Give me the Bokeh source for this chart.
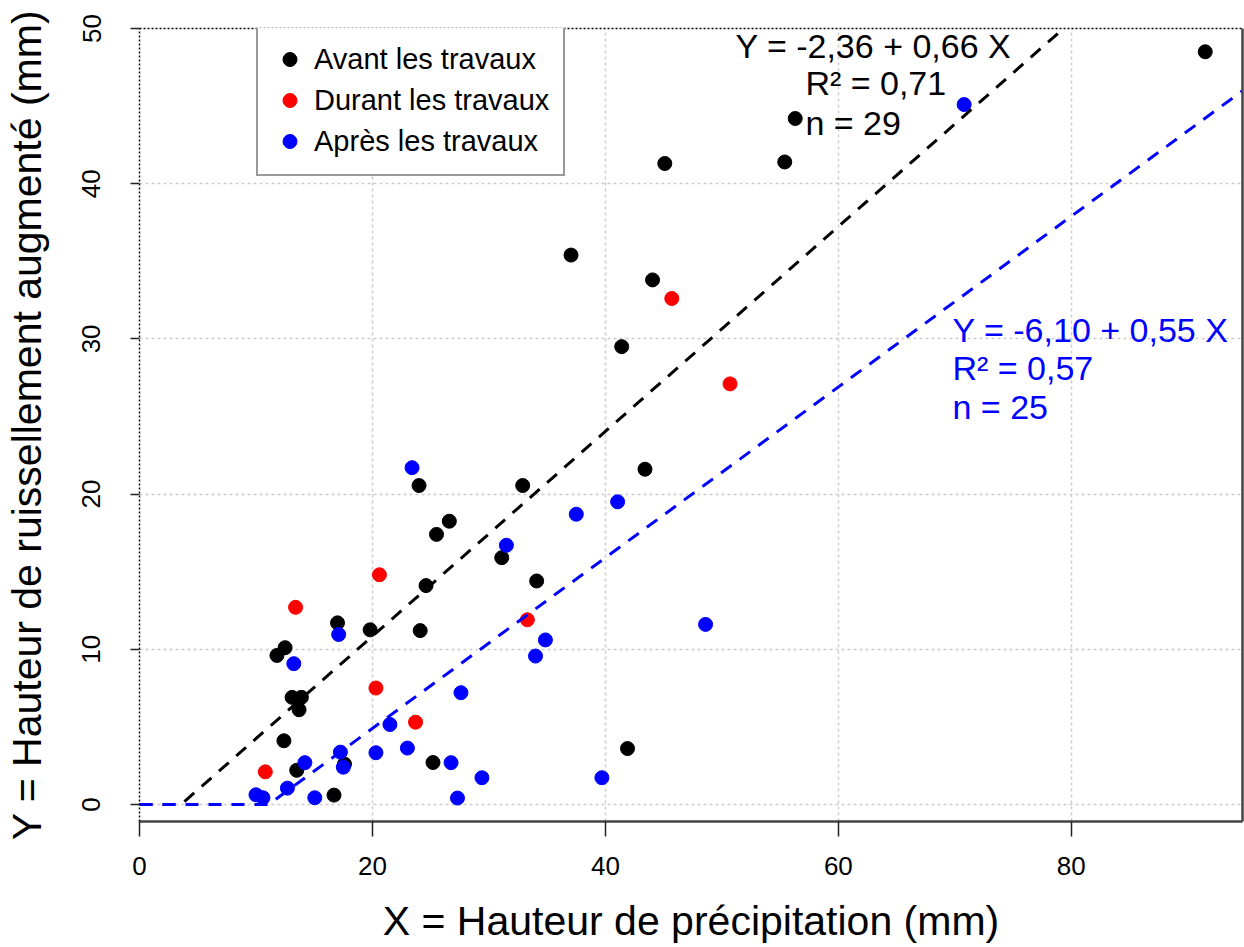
from bokeh.plotting import figure
from bokeh.models import Range1d, FixedTicker, LinearAxis, Legend, LegendItem, Label
from bokeh.embed import file_html
from bokeh.resources import INLINE

# ---- data ----
avant_x = [91.5, 56.3, 55.4, 45.1, 37.05, 44.05, 41.4, 43.4, 32.9, 24.0, 26.6, 25.5, 31.1, 34.1, 24.6,
           17.0, 19.8, 24.1, 12.5, 11.8, 13.1, 13.9, 13.7, 12.4, 13.5, 17.6, 16.7, 25.2, 41.9]
avant_y = [48.5, 44.2, 41.4, 41.3, 35.4, 33.8, 29.5, 21.6, 20.55, 20.55, 18.25, 17.4, 15.9, 14.4, 14.1,
           11.7, 11.25, 11.2, 10.1, 9.6, 6.9, 6.9, 6.1, 4.1, 2.2, 2.6, 0.6, 2.7, 3.6]

durant_x = [45.7, 50.7, 20.6, 13.4, 33.3, 20.3, 23.7, 10.8]
durant_y = [32.6, 27.1, 14.8, 12.7, 11.9, 7.5, 5.3, 2.1]

apres_x = [70.8, 23.4, 37.5, 41.05, 31.5, 17.1, 13.25, 34.85, 34.0, 48.6, 27.6, 21.5, 20.3, 23.0,
           17.25, 17.5, 14.2, 12.7, 10.0, 10.6, 15.05, 26.75, 29.4, 27.3, 39.7]
apres_y = [45.1, 21.7, 18.7, 19.5, 16.7, 10.95, 9.07, 10.6, 9.56, 11.6, 7.2, 5.15, 3.33, 3.63,
           3.37, 2.4, 2.69, 1.05, 0.62, 0.43, 0.43, 2.69, 1.72, 0.41, 1.72]

# regression coefficients (intercept, slope) as printed on the chart
avant_fit = (-2.36, 0.66)
apres_fit = (-6.10, 0.55)

series_labels = ["Avant les travaux", "Durant les travaux", "Après les travaux"]
x_ticks = [0, 20, 40, 60, 80]
y_ticks = [0, 10, 20, 30, 40, 50]

x_title = "X = Hauteur de précipitation (mm)"
y_title = "Y = Hauteur de ruissellement augmenté (mm)"
eq_avant = ["Y = -2,36 + 0,66 X", "R² = 0,71", "n = 29"]
eq_apres = ["Y = -6,10 + 0,55 X", "R² = 0,57", "n = 25"]

FONT = "Liberation Sans"
X_MAX = 94.7

p = figure(width=1244, height=947, output_backend="svg", toolbar_location=None,
           x_range=Range1d(0, X_MAX), y_range=Range1d(-1.1, 50.0),
           min_border_left=139, min_border_right=2, min_border_top=28, min_border_bottom=126,
           title_location=None, background_fill_color="white", border_fill_color="white")
p.outline_line_color = None

# grid
for g in (p.xgrid, p.ygrid):
    g.grid_line_color = "#cccccc"
    g.grid_line_dash = "3 3"
    g.grid_line_width = 1.5
p.xgrid.ticker = FixedTicker(ticks=x_ticks)
p.ygrid.ticker = FixedTicker(ticks=y_ticks)

# x axis (bottom)
xa = p.xaxis[0]
xa.ticker = FixedTicker(ticks=x_ticks)
xa.axis_line_color = "#444444"
xa.axis_line_width = 2.5
xa.major_tick_out = 15
xa.major_tick_in = 0
xa.major_tick_line_color = "#222222"
xa.major_tick_line_width = 1.5
xa.minor_tick_line_color = None
xa.major_label_text_font = FONT
xa.major_label_text_font_size = "26px"
xa.major_label_text_color = "black"
xa.major_label_standoff = 20
xa.axis_label = x_title
xa.axis_label_text_font = FONT
xa.axis_label_text_font_size = "41px"
xa.axis_label_text_font_style = "normal"
xa.axis_label_text_color = "black"
xa.axis_label_standoff = 20

# y axis (left)
ya = p.yaxis[0]
ya.ticker = FixedTicker(ticks=y_ticks)
ya.axis_line_color = "black"
ya.axis_line_dash = "2 2"
ya.axis_line_width = 1.5
ya.major_tick_out = 9
ya.major_tick_in = 0
ya.major_tick_line_color = "#222222"
ya.major_tick_line_width = 1.5
ya.minor_tick_line_color = None
ya.major_label_orientation = "vertical"
ya.major_label_text_font = FONT
ya.major_label_text_font_size = "26px"
ya.major_label_text_color = "black"
ya.major_label_standoff = 30
ya.axis_label = y_title
ya.axis_label_text_font = FONT
ya.axis_label_text_font_size = "41px"
ya.axis_label_text_font_style = "normal"
ya.axis_label_text_color = "black"
ya.axis_label_standoff = 30

# frame edges: top dotted, right solid
top_ax = LinearAxis(ticker=FixedTicker(ticks=[]), axis_line_color="black", axis_line_dash="2 2",
                    axis_line_width=1.5, major_tick_out=0, major_tick_in=0, minor_tick_out=0,
                    minor_tick_in=0, major_label_standoff=0)
p.add_layout(top_ax, "above")
right_ax = LinearAxis(ticker=FixedTicker(ticks=[]), axis_line_color="#444444",
                      axis_line_width=2.5, major_tick_out=0, major_tick_in=0, minor_tick_out=0,
                      minor_tick_in=0, major_label_standoff=0)
p.add_layout(right_ax, "right")

# points
r_av = p.scatter(avant_x, avant_y, size=14, color="black")
r_du = p.scatter(durant_x, durant_y, size=14, color="#ff0000")
r_ap = p.scatter(apres_x, apres_y, size=14, color="#0000ff")

# regression lines (from printed coefficients), clipped at zero
def fit_line(coef):
    a, b = coef
    xs = [0.0, -a / b, X_MAX]
    ys = [max(0.0, a + b * x) for x in xs]
    return xs, ys

bx, by = fit_line(avant_fit)
p.line(bx, by, line_color="black", line_width=3, line_dash="13 10")
ax_, ay_ = fit_line(apres_fit)
p.line(ax_, ay_, line_color="#0000ff", line_width=3, line_dash="13 10")

# equations
for txt, (x, y) in zip(eq_avant, [(51.16, 48.9), (57.17, 46.46), (57.17, 43.94)]):
    p.add_layout(Label(x=x, y=y, text=txt, text_font=FONT, text_font_size="34px",
                       text_color="black", text_align="left", text_baseline="middle"))
for txt, (x, y) in zip(eq_apres, [(69.8, 30.6), (69.8, 28.1), (69.8, 25.58)]):
    p.add_layout(Label(x=x, y=y, text=txt, text_font=FONT, text_font_size="34px",
                       text_color="#0000ff", text_align="left", text_baseline="middle"))

# legend
legend = Legend(items=[LegendItem(label=series_labels[0], renderers=[r_av]),
                       LegendItem(label=series_labels[1], renderers=[r_du]),
                       LegendItem(label=series_labels[2], renderers=[r_ap])],
                location=(117, 645), orientation="vertical",
                glyph_width=35, glyph_height=38, padding=14, spacing=3, label_standoff=7,
                label_text_font=FONT, label_text_font_size="29px", label_text_color="black",
                label_height=38, border_line_color="#333333", border_line_width=2,
                background_fill_color="white", background_fill_alpha=1.0, margin=0)
p.add_layout(legend, "center")

open("out.html", "w").write(file_html(p, INLINE))
